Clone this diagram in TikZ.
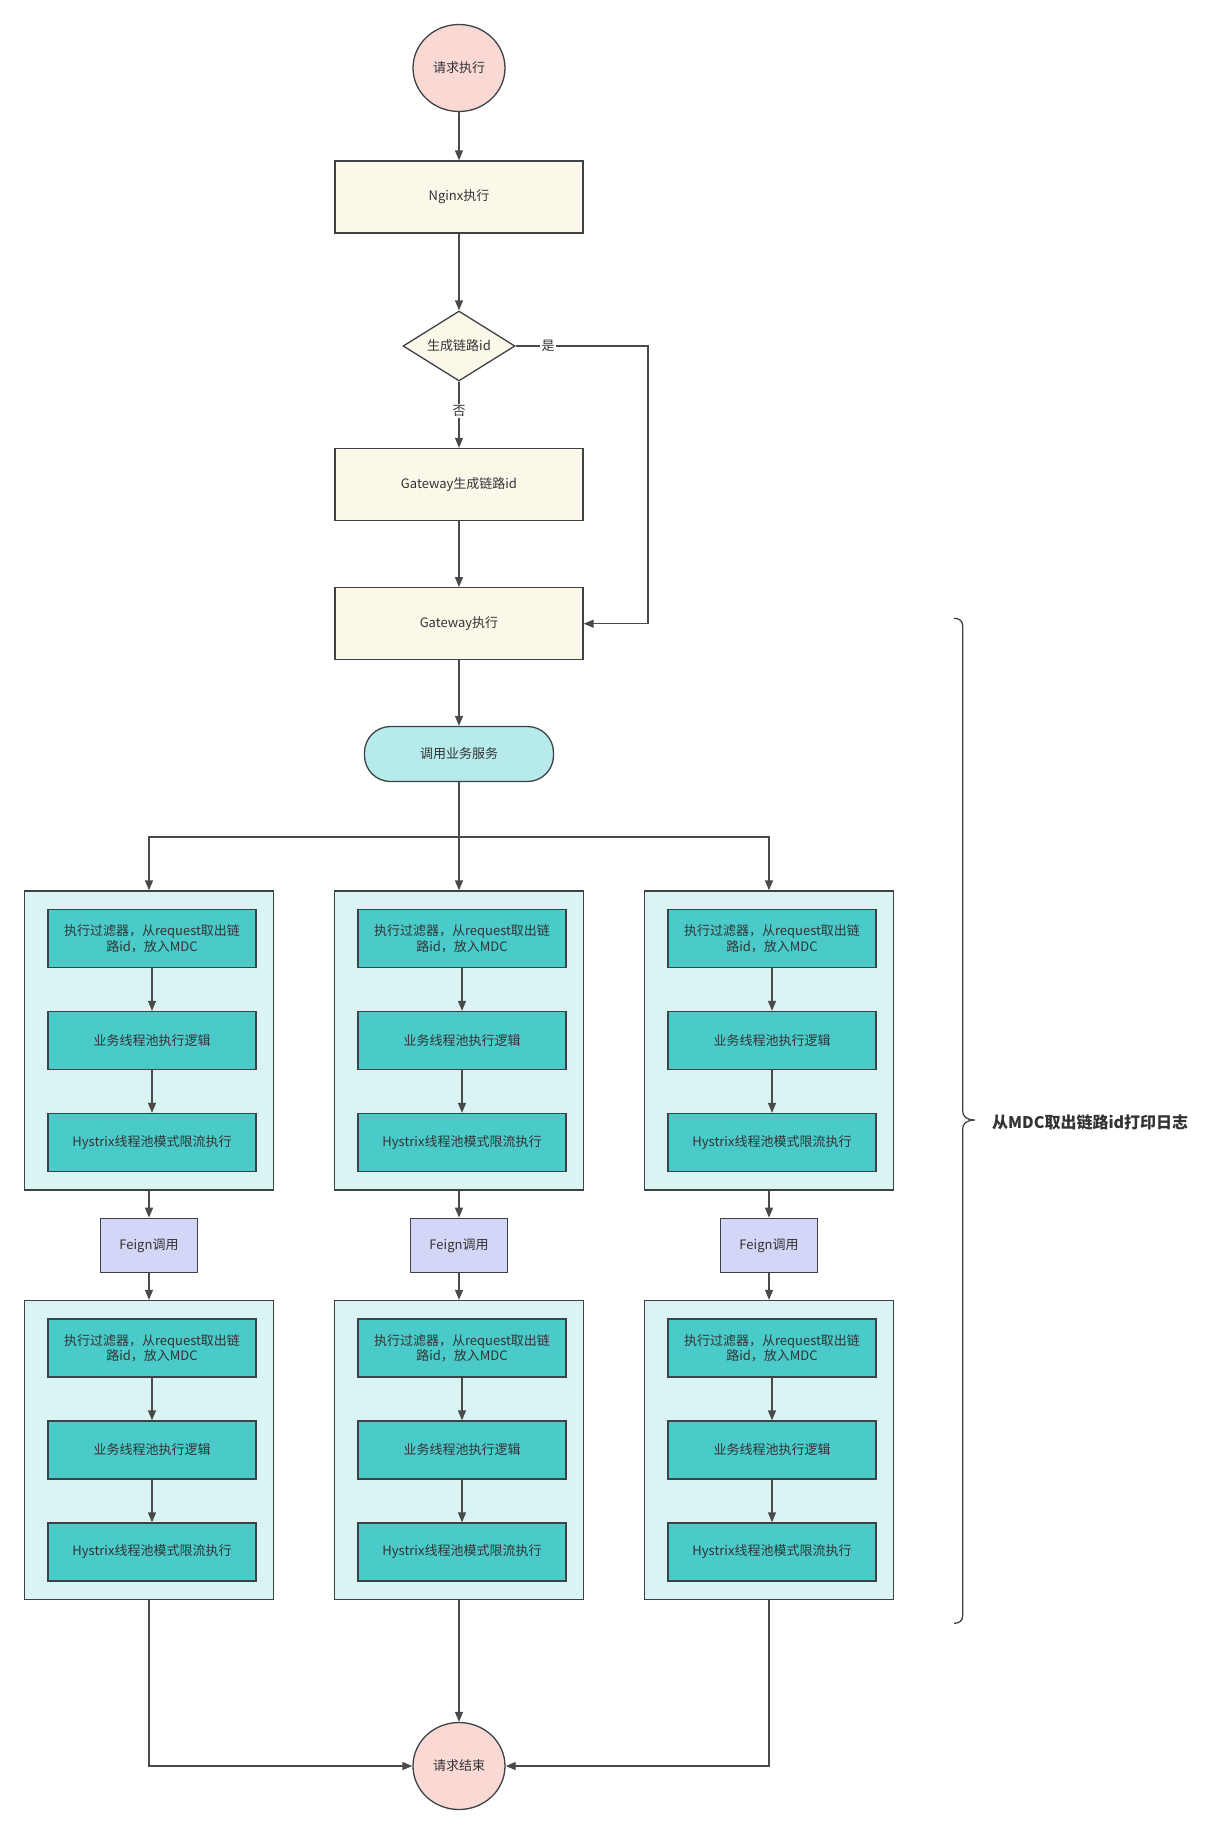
\documentclass[tikz,border=0pt]{standalone}
\usepackage{fontspec}
\setmainfont{Noto Sans CJK SC}
\usetikzlibrary{arrows.meta,shapes.geometric}
\definecolor{edgec}{HTML}{3D4247}
\definecolor{linec}{HTML}{4A4A4A}
\definecolor{txt}{HTML}{333333}
\definecolor{pinkc}{HTML}{FAD9D5}
\definecolor{creamc}{HTML}{FBF8EA}
\definecolor{pillc}{HTML}{B7EAEA}
\definecolor{contc}{HTML}{DAF4F4}
\definecolor{innerc}{HTML}{4BCACA}
\definecolor{feignc}{HTML}{D4D6F8}
\tikzset{
  base/.style={draw=edgec, line width=1.3pt, inner sep=0pt, text=txt,
    font=\fontsize{13}{15.5}\selectfont, align=center},
  circ/.style={base, ellipse, fill=pinkc, minimum width=92pt, minimum height=87pt},
  cbox/.style={base, rectangle, fill=creamc, minimum width=248pt, minimum height=72pt},
  dia/.style={base, diamond, fill=creamc, minimum width=112pt, minimum height=70pt, shape aspect=1.6},
  pill/.style={base, rectangle, rounded corners=26pt, fill=pillc, minimum width=189pt, minimum height=55pt},
  cont/.style={base, rectangle, fill=contc, minimum width=249pt, minimum height=299pt},
  inner/.style={base, rectangle, fill=innerc, minimum width=208pt, minimum height=58pt},
  feign/.style={base, rectangle, fill=feignc, minimum width=97pt, minimum height=54pt},
  arr/.style={draw=linec, line width=1.3pt, -{Triangle[length=10pt,width=8pt]}},
  lbl/.style={fill=white, inner sep=1.5pt, text=txt, font=\fontsize{13}{15}\selectfont},
}
\begin{document}
\begin{tikzpicture}[x=1pt,y=-1pt]
\useasboundingbox (0,0) rectangle (1231,1834);
\fill[white] (0,0) rectangle (1231,1834);

\node[circ] (start) at (459,68) {请求执行};
\node[cbox] (nginx) at (459,197) {Nginx执行};
\node[dia] (dec) at (459,346) {生成链路id};
\node[cbox] (gwgen) at (459,484.5) {Gateway生成链路id};
\node[cbox] (gw) at (459,623.7) {Gateway执行};
\node[pill] (svc) at (459,754) {调用业务服务};

% containers and inner boxes
\foreach \n/\cx in {L/149,M/459,R/769}{
  \node[cont] (ca\n) at (\cx,1040.5) {};
  \node[inner] (ca\n1) at (\cx+3,938.5) {执行过滤器，从request取出链\\路id，放入MDC};
  \node[inner] (ca\n2) at (\cx+3,1040.5) {业务线程池执行逻辑};
  \node[inner] (ca\n3) at (\cx+3,1142.5) {Hystrix线程池模式限流执行};
  \node[feign] (f\n) at (\cx,1245.3) {Feign调用};
  \node[cont] (cb\n) at (\cx,1450) {};
  \node[inner] (cb\n1) at (\cx+3,1348) {执行过滤器，从request取出链\\路id，放入MDC};
  \node[inner] (cb\n2) at (\cx+3,1450) {业务线程池执行逻辑};
  \node[inner] (cb\n3) at (\cx+3,1552) {Hystrix线程池模式限流执行};
  \draw[arr] (ca\n1) -- (ca\n2);
  \draw[arr] (ca\n2) -- (ca\n3);
  \draw[arr] (cb\n1) -- (cb\n2);
  \draw[arr] (cb\n2) -- (cb\n3);
  \draw[arr] (ca\n.south) -- (f\n.north);
  \draw[arr] (f\n.south) -- (cb\n.north);
}

\node[circ] (end) at (459,1766) {请求结束};

% main flow
\draw[arr] (start) -- (nginx);
\draw[arr] (nginx) -- (dec);
\draw[arr] (dec) -- (gwgen);
\draw[arr] (gwgen) -- (gw);
\coordinate (yc) at (648,346);
\draw[arr] (dec.east) -- (yc) |- (gw.east);
\node[lbl] (yes) at (548,346) {是};
\node[lbl] (no) at (459,411) {否};
\draw[arr] (gw) -- (svc);
\coordinate (br) at (459,837);
\draw[arr] (svc.south) -- (caM.north);
\draw[arr] (br) -| (caL.north);
\draw[arr] (br) -| (caR.north);

\draw[arr] (cbL.south) |- (end.west);
\draw[arr] (cbM.south) -- (end.north);
\draw[arr] (cbR.south) |- (end.east);

% brace
\draw[edgec, line width=1.3pt]
  (954,618.3) .. controls (959,618.3) and (962.7,620.5) .. (962.7,626)
  -- (962.7,1111) .. controls (962.7,1116) and (966,1120) .. (975,1120)
  .. controls (966,1120) and (962.7,1124) .. (962.7,1129)
  -- (962.7,1615.5) .. controls (962.7,1621) and (959,1623.3) .. (954,1623.3);
\node[anchor=west, inner sep=0pt, text=txt, font=\fontsize{16}{18}\selectfont\bfseries] (note) at (992,1122) {从MDC取出链路id打印日志};
\end{tikzpicture}
\end{document}
